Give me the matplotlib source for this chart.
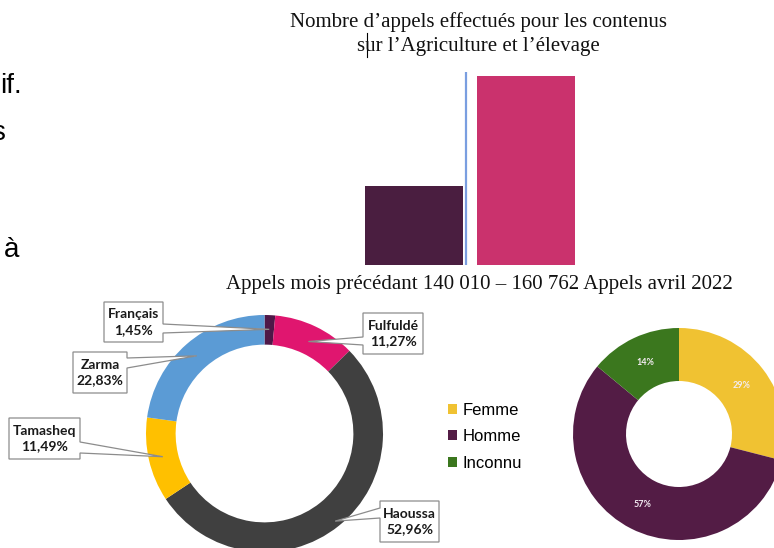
import matplotlib
matplotlib.use("Agg")
import matplotlib.pyplot as plt
import numpy as np
from matplotlib.patches import Polygon, Patch

W, H = 774, 548

# bar chart data
bar_labels = ["Appels mois précédant", "Appels avril 2022"]
bar_values = [140010, 160762]
bar_colors = ["#4A1E40", "#CA326D"]

# language donut
langues = ["Français", "Fulfuldé", "Haoussa", "Tamasheq", "Zarma"]
langue_pct = [1.45, 11.27, 52.96, 11.49, 22.83]
langue_colors = ["#4F1848", "#E0166F", "#404040", "#FFC000", "#5B9BD5"]

# gender donut
genres = ["Femme", "Homme", "Inconnu"]
genre_pct = [29, 57, 14]
genre_colors = ["#F0C232", "#531C45", "#3B771E"]


def fy(y):
    # top-origin pixel -> bottom-origin pixel
    return H - y


fig = plt.figure(figsize=(W / 100, H / 100), dpi=100)
fig.patch.set_facecolor("white")

# overlay axes in pixel coordinates (y up)
ov = fig.add_axes([0, 0, 1, 1])

# ---- bar chart ----
bx0, bx1, by0, by1 = 340, 600, 72, 265
axb = fig.add_axes([bx0 / W, fy(by1) / H, (bx1 - bx0) / W, (by1 - by0) / H])
axb.bar([0, 1], bar_values, width=0.875, color=bar_colors)
axb.set_xlim(-0.661, 1.661)
axb.set_ylim(125106, 161517)
axb.axvline(0.464, color="#7A9EE0", lw=1.6)
axb.axis("off")

serif = "Liberation Serif"
fig.text(478.5 / W, fy(22) / H, "Nombre d’appels effectués pour les contenus",
         ha="center", va="center", family=serif, fontsize=15, color="#111111")
fig.text(478.5 / W, fy(46) / H, "sur l’Agriculture et l’élevage",
         ha="center", va="center", family=serif, fontsize=15, color="#111111")
fig.text(479 / W, fy(284) / H,
         f"{bar_labels[0]} 140 010 – 160 762 {bar_labels[1]}",
         ha="center", va="center", family=serif, fontsize=15, color="#111111")
ov.plot([367, 367], [fy(33), fy(57)], color="black", lw=0.8)

# ---- left slide text fragments ----
sans = "Liberation Sans"
fig.text(0.5 / W, fy(93) / H, "if.", ha="left", va="baseline", family=sans, fontsize=20)
fig.text(5 / W, fy(140) / H, "s", ha="right", va="baseline", family=sans, fontsize=20)
fig.text(4 / W, fy(257) / H, "à", ha="left", va="baseline", family=sans, fontsize=20)

# ---- language donut ----
cx, cy, R = 264.5, fy(433.5), 118.5
wedges, _ = ov.pie(langue_pct, colors=langue_colors, startangle=90, counterclock=False,
                   radius=R, center=(cx, cy),
                   wedgeprops=dict(width=R * 0.25, linewidth=0))

# callout boxes: (x0, y0, x1, y1) top-origin, side, pointer base y range, tip radius
callouts = {
    "Français": ((104, 302, 163, 342), "right", (324, 333), 0.88),
    "Fulfuldé": ((363, 313, 423, 354), "left", (337, 345), 0.86),
    "Haoussa": ((380, 501, 439, 542), "left", (508, 518), 0.95),
    "Tamasheq": ((9, 418, 80, 459), "right", (442, 453), 0.88),
    "Zarma": ((73, 352, 127, 393), "right", (358, 368), 0.87),
}
for w, name, pct in zip(wedges, langues, langue_pct):
    (x0, y0, x1, y1), side, (ya, yb), rf = callouts[name]
    ang = np.deg2rad((w.theta1 + w.theta2) / 2)
    tip = (cx + rf * R * np.cos(ang), cy + rf * R * np.sin(ang))
    Y0, Y1, YA, YB = fy(y0), fy(y1), fy(ya), fy(yb)
    if side == "right":
        pts = [(x0, Y0), (x1, Y0), (x1, YA), tip, (x1, YB), (x1, Y1), (x0, Y1)]
    else:
        pts = [(x0, Y0), (x1, Y0), (x1, Y1), (x0, Y1), (x0, YB), tip, (x0, YA)]
    ov.add_patch(Polygon(pts, closed=True, facecolor="white", edgecolor="#8C8C8C",
                         lw=0.9, zorder=5))
    label = f"{name}\n{pct:.2f}%".replace(".", ",")
    ov.text((x0 + x1) / 2, (Y0 + Y1) / 2, label, ha="center", va="center",
            family="Lato", weight="bold", fontsize=10, linespacing=1.35,
            color="#1A1A1A", zorder=6)

# ---- gender donut ----
gx, gy, gR = 679, fy(434), 106
ov.pie(genre_pct, colors=genre_colors, startangle=90, counterclock=False,
       radius=gR, center=(gx, gy), autopct="%.0f%%", pctdistance=0.75,
       wedgeprops=dict(width=gR * 0.5, linewidth=0),
       textprops=dict(color="#F3ECF2", fontsize=6.5, family="Lato", weight="bold"))

handles = [Patch(facecolor=c, edgecolor="none") for c in genre_colors]
ov.legend(handles, genres, loc="upper left",
          bbox_to_anchor=(448 / W, fy(403) / H), bbox_transform=fig.transFigure,
          frameon=False, borderpad=0, borderaxespad=0, handlelength=0.55,
          handleheight=0.55, handletextpad=0.3, labelspacing=0.68,
          prop=dict(family=sans, size=12))

ov.set_xlim(0, W)
ov.set_ylim(0, H)
ov.set_aspect("auto")
ov.axis("off")

fig.savefig("out.png", dpi=100, facecolor="white")
